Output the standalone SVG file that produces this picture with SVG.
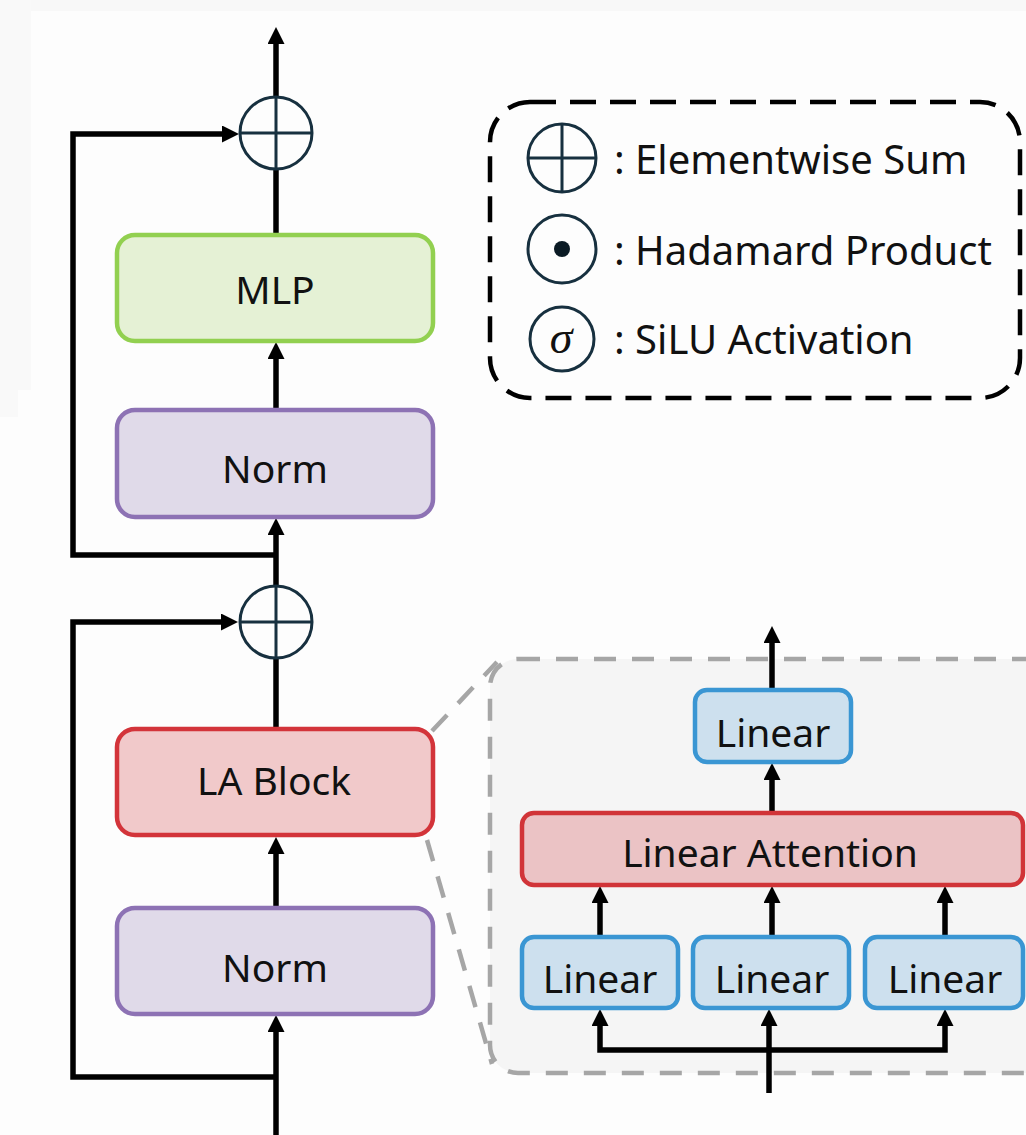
<svg xmlns="http://www.w3.org/2000/svg" width="1026" height="1135" viewBox="0 0 1026 1135">
  <style>
    .lbl { font-family: "Noto Sans", "Liberation Sans", sans-serif; font-size: 39px; fill: #111; text-anchor: middle; }
    .leg { font-family: "Noto Sans", "Liberation Sans", sans-serif; font-size: 40px; fill: #111; }
    .wire { fill: none; stroke: #000; stroke-width: 5.5; stroke-linejoin: miter; }
    .arrow { marker-end: url(#head); }
    .op { fill: none; stroke: #17303f; stroke-width: 3; }
    .mlp { fill: #e5f1d5; stroke: #92d050; stroke-width: 4.5; }
    .norm { fill: #e0dae9; stroke: #8d72b4; stroke-width: 4.5; }
    .la { fill: #f1c9ca; stroke: #d3343a; stroke-width: 4.5; }
    .att { fill: #ebc3c5; stroke: #d13438; stroke-width: 4.5; }
    .lin { fill: #cde0ee; stroke: #3a96d3; stroke-width: 4.5; }
    .zoomline { fill: none; stroke: #a6a6a6; stroke-width: 4.5; stroke-dasharray: 22 16; }
  </style>
  <defs>
    <marker id="head" markerUnits="userSpaceOnUse" viewBox="0 0 17 17" refX="9" refY="8.5" markerWidth="17" markerHeight="17" orient="auto">
      <path d="M0,0 L17,8.5 L0,17 Z" fill="#000"/>
    </marker>
  </defs>

  <!-- page background -->
  <rect x="0" y="0" width="1026" height="1135" fill="#fdfdfd"/>
  <rect x="0" y="0" width="1026" height="11" fill="#f8f8f8"/>
  <rect x="0" y="0" width="31" height="390" fill="#f9f9f9"/>
  <rect x="0" y="0" width="18" height="417" fill="#f9f9f9"/>

  <!-- legend -->
  <g id="legend">
    <rect x="490" y="102" width="530" height="296" rx="40" fill="none" stroke="#000" stroke-width="4.5" stroke-dasharray="26 14"/>
    <g id="legend-sum">
      <circle cx="562" cy="158" r="34" class="op"/>
      <path d="M528,158 H596 M562,124 V192" class="op"/>
      <text x="614" y="174" class="leg">: Elementwise Sum</text>
    </g>
    <g id="legend-hadamard">
      <circle cx="562" cy="249" r="34" class="op"/>
      <circle cx="562" cy="249" r="8" fill="#0a1a24"/>
      <text x="614" y="265" class="leg">: Hadamard Product</text>
    </g>
    <g id="legend-silu">
      <circle cx="562" cy="339" r="32" class="op"/>
      <text x="561" y="353" font-family="Liberation Serif, serif" font-style="italic" font-size="46" fill="#111" text-anchor="middle">σ</text>
      <text x="614" y="354" class="leg">: SiLU Activation</text>
    </g>
  </g>

  <!-- zoom guide lines from LA Block to its detail panel -->
  <g id="zoom-guides">
    <path d="M432,731 L497,662" class="zoomline"/>
    <path d="M427,840 L492,1064" class="zoomline"/>
  </g>

  <!-- detail panel background -->
  <g id="detail-panel">
    <rect x="490" y="659" width="580" height="414" rx="28" fill="#f5f5f5" stroke="#a6a6a6" stroke-width="4.5" stroke-dasharray="22 16"/>
  </g>

  <!-- connectors -->
  <g id="connectors">
    <!-- main column -->
    <path d="M276,97 V35" class="wire arrow"/>
    <path d="M276,235 V169" class="wire"/>
    <path d="M276,410 V350" class="wire arrow"/>
    <path d="M276,587 V526" class="wire arrow"/>
    <path d="M276,555 H73 V134 H231" class="wire arrow"/>
    <path d="M276,728 V658" class="wire"/>
    <path d="M276,908 V845" class="wire arrow"/>
    <path d="M276,1135 V1023" class="wire arrow"/>
    <path d="M276,1077 H73 V622 H230" class="wire arrow"/>
    <!-- detail panel -->
    <path d="M772,690 V634" class="wire arrow"/>
    <path d="M772,813 V771" class="wire arrow"/>
    <path d="M600,937 V894" class="wire arrow"/>
    <path d="M772,937 V894" class="wire arrow"/>
    <path d="M945,937 V894" class="wire arrow"/>
    <path d="M769,1093 V1017" class="wire arrow"/>
    <path d="M769,1050 H600 V1017" class="wire arrow"/>
    <path d="M769,1050 H945 V1017" class="wire arrow"/>
  </g>

  <!-- main column nodes -->
  <g id="sum-top">
    <circle cx="276" cy="133" r="36" fill="#fdfdfd" class="op"/>
    <path d="M240,133 H312 M276,97 V169" class="op"/>
  </g>
  <g id="mlp">
    <rect x="117" y="235" width="316" height="106" rx="18" class="mlp"/>
    <text x="275" y="304" class="lbl">MLP</text>
  </g>
  <g id="norm-top">
    <rect x="117" y="410" width="316" height="107" rx="18" class="norm"/>
    <text x="275" y="483" class="lbl">Norm</text>
  </g>
  <g id="sum-bottom">
    <circle cx="276" cy="622" r="36" fill="#fdfdfd" class="op"/>
    <path d="M240,622 H312 M276,586 V658" class="op"/>
  </g>
  <g id="la-block">
    <rect x="117" y="729" width="316" height="106" rx="18" class="la"/>
    <text x="274" y="795" class="lbl">LA Block</text>
  </g>
  <g id="norm-bottom">
    <rect x="117" y="908" width="316" height="106" rx="18" class="norm"/>
    <text x="275" y="982" class="lbl">Norm</text>
  </g>

  <!-- detail panel nodes -->
  <g id="linear-out">
    <rect x="695" y="690" width="156" height="72" rx="12" class="lin"/>
    <text x="773" y="747" class="lbl">Linear</text>
  </g>
  <g id="linear-attention">
    <rect x="522" y="813" width="501" height="72" rx="12" class="att"/>
    <text x="770" y="867" class="lbl">Linear Attention</text>
  </g>
  <g id="linear-q">
    <rect x="522" y="937" width="156" height="71" rx="12" class="lin"/>
    <text x="600" y="993" class="lbl">Linear</text>
  </g>
  <g id="linear-k">
    <rect x="693" y="937" width="156" height="71" rx="12" class="lin"/>
    <text x="772" y="993" class="lbl">Linear</text>
  </g>
  <g id="linear-v">
    <rect x="865" y="937" width="158" height="71" rx="12" class="lin"/>
    <text x="945" y="993" class="lbl">Linear</text>
  </g>
</svg>
